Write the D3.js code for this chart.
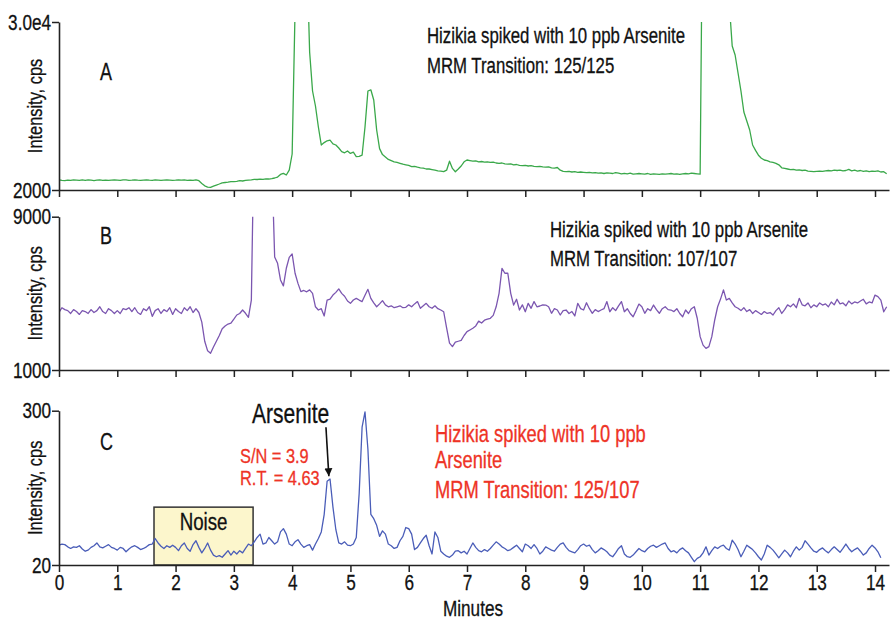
<!DOCTYPE html>
<html lang="en">
<head>
<meta charset="UTF-8">
<title>Hizikia arsenite MRM chromatograms</title>
<script src="https://d3js.org/d3.v7.min.js"></script>
<style>
  body { margin: 0; background: #fff; }
  svg text { font-family: "Liberation Sans", Arial, sans-serif; }
</style>
</head>
<body>
<script>
// samples every 0.05 min, starting at 0
const step = 0.05;
const minuteTicks = [0, 1, 2, 3, 4, 5, 6, 7, 8, 9, 10, 11, 12, 13, 14];

// A: MRM 125/125 (cps)
const traceA = [
  3700,3600,3550,3650,3600,3700,3650,3600,3680,3620,3700,3650,3580,3650,3700,3620,3660,3600,3650,3700,
  3650,3600,3700,3680,3620,3650,3700,3640,3600,3660,3700,3650,3620,3680,3640,3600,3650,3700,3660,3620,
  3650,3700,3640,3680,3620,3650,3600,3680,3550,3100,2700,2480,2450,2650,2830,3000,3200,3250,3300,3380,
  3380,3450,3550,3500,3600,3650,3700,3780,3750,3800,3780,3850,3830,3900,4000,4150,4600,4780,4500,5300,
  8000,32000,80000,90000,70000,42000,25000,18500,16000,12500,9500,9900,10200,10300,9700,9500,9000,8400,8200,8500,
  8100,8300,7550,7600,7800,12500,18500,18700,17000,12000,8900,7900,7500,7100,6900,6700,6600,6450,6300,6200,
  6100,5900,5950,5800,5700,5650,5500,5500,5400,5300,5200,5150,5050,5300,6800,5600,5050,5500,6000,6700,
  7000,6900,6800,6850,6700,6750,6650,6700,6600,6650,6500,6450,6500,6350,6300,6350,6200,6250,6100,6050,
  6100,6000,6050,5950,5900,5950,5850,5800,5850,5700,5650,5750,5300,5100,5050,5100,5000,5050,4950,5000,
  4950,4900,4950,4850,4900,4800,4850,4750,4850,4800,4750,4900,4800,4700,4780,4700,4800,4650,4700,4750,
  4700,4650,4750,4600,4700,4650,4600,4700,4650,4700,4750,4650,4700,4600,4700,4750,4700,4800,4750,4700,
  4650,60000,90000,100000,100000,100000,100000,100000,90000,60000,33000,26000,24500,21500,18500,15000,13500,12000,9500,8600,
  7800,7300,7000,6900,6700,6600,6450,6200,5700,5600,5500,5400,5450,5300,5350,5250,5300,5150,5100,5050,
  5100,5150,5100,5200,5250,5200,5300,5250,5300,5200,5250,5450,5200,5300,5150,5250,5100,5200,5050,5150,
  5100,5200,5000,5050,4700
];

// B: MRM 107/107 (cps)
const traceB = [
  4000,4250,4150,4100,3950,4150,4050,3900,4100,4050,3950,4150,4000,4100,4300,4050,3950,4200,4100,3950,
  4100,3950,4200,4150,4250,4050,4250,4000,3900,4200,4100,4300,3800,4100,4200,3950,4150,4050,4250,3900,
  4200,4050,3950,4250,4100,4300,4000,4200,4000,3500,2500,2000,1870,2200,2500,2800,3150,3300,3400,3450,
  3650,3870,3950,4130,3960,3750,4650,14000,20000,20000,20000,20000,20000,12000,6900,6570,5700,5390,6310,6880,
  7060,6050,5520,5090,5150,5080,5180,5000,4300,4130,4200,3820,4650,4700,4910,5050,5230,5000,4850,4600,
  4480,4650,4740,4650,4570,4900,5210,4740,4500,4300,4450,4620,4400,4300,4350,4250,4300,4350,4250,4270,
  4400,4300,4450,4570,4220,4350,4480,4300,4220,4350,4200,4130,4040,3200,2400,2220,2450,2500,2550,2800,
  3000,3090,3180,3300,3550,3450,3600,3650,3700,3850,4300,5000,6300,6050,6050,5000,4390,4690,4130,4400,
  4040,4480,4220,4570,4300,4340,4400,4390,4300,3960,4200,4130,3870,4100,4130,3950,4050,3820,4480,4200,
  4130,4510,4200,3960,4150,4050,4130,4200,4570,4040,4250,4100,4350,4570,4040,4200,3950,3780,4100,4440,
  4300,3960,4200,4100,4390,4150,3960,4200,4300,4150,4130,4050,4200,3950,3780,4130,3950,4200,4300,3700,
  2740,2300,2130,2220,2740,3610,4300,4700,5180,4650,4740,4500,4300,4220,4100,4250,4050,4150,3950,4100,
  4000,3900,4050,3950,4000,3870,4100,4250,3950,4150,4400,4300,4450,4250,4740,4400,4350,4500,4250,4400,
  4300,4500,4390,4450,4300,4550,4400,4690,4450,4500,4350,4600,4450,4550,4500,4600,4690,4450,4550,4500,
  4910,4830,4650,4040,4300
];

// C: MRM 125/107 (cps)
const traceC = [
  56,58,57,53,50,53,52,55,49,45,47,52,55,60,53,51,54,57,52,50,
  47,52,50,44,49,53,55,52,48,50,53,57,58,68,60,54,50,55,52,56,
  52,46,55,60,50,45,57,64,52,42,50,60,47,38,35,37,34,40,46,38,
  45,40,46,42,50,58,55,62,70,76,58,60,70,64,58,62,80,86,76,58,
  55,62,66,58,52,55,57,47,58,68,80,112,172,176,125,84,60,58,62,56,
  55,58,70,150,270,298,230,112,104,92,72,82,76,58,55,50,52,64,72,88,
  86,76,48,52,60,68,74,55,40,80,70,45,40,36,34,38,45,46,42,45,
  40,50,60,52,46,44,48,45,50,56,62,58,53,50,46,48,52,56,50,44,
  58,55,50,57,50,40,45,53,50,47,45,52,58,60,52,46,44,42,48,55,
  58,54,56,48,42,46,51,48,44,38,35,42,50,55,40,35,34,38,44,50,
  46,44,50,54,56,52,55,58,60,50,44,46,42,48,51,46,42,34,26,32,
  35,42,53,38,46,53,50,54,56,50,47,65,58,48,35,45,56,52,48,42,
  35,29,40,56,52,47,40,33,40,47,42,35,45,53,47,52,64,58,51,45,
  43,48,51,46,42,48,53,48,43,50,58,50,44,48,51,45,38,42,50,56,
  51,44,33
];

const panelKeys = ["A", "B", "C"];
const panelDomains = [[2000, 30000], [1000, 9000], [20, 300]];
const yTickLabels = [["2000", "3.0e4"], ["1000", "9000"], ["20", "300"]];
const traceColors = ["#3aa84a", "#7b56b0", "#4a5db8"];

const noiseWindow = [1.63, 3.33];   // minutes
const noiseTop = 125;               // cps
const arsenitePeak = {t: 4.63, v: 180};

const width = 893, height = 620;
const narrow = 0.78;   // condensed look of the original type

const svg = d3.select("body").append("svg")
    .attr("width", width)
    .attr("height", height);

// text squeezed horizontally around its anchor point
function label(px, py, str, size, fill, anchor, extra) {
    return svg.append("text")
        .attr("transform", `translate(${px},${py}) ${extra || ""} scale(${narrow},1)`)
        .attr("text-anchor", anchor || "start")
        .attr("font-size", size)
        .attr("fill", fill || "#111")
        .attr("stroke", fill || "#111")
        .attr("stroke-width", 0.3)
        .text(str);
}

const x = d3.scaleLinear().domain([0, 14.24]).range([59, 889]);

// pixel bands of the three stacked panels [bottom, top]
const bands = [[190, 22], [370, 216.7], [565, 410.7]];
const traces = [traceA, traceB, traceC];

const line = (y) => d3.line()
    .x((d, i) => x(i * step))
    .y(d => y(d));

const scales = [];

traces.forEach((values, k) => {
    const y = d3.scaleLinear().domain(panelDomains[k]).range(bands[k]);
    scales.push(y);

    svg.append("clipPath").attr("id", "clip" + k)
      .append("rect")
        .attr("x", x.range()[0]).attr("y", bands[k][1])
        .attr("width", x.range()[1] - x.range()[0])
        .attr("height", bands[k][0] - bands[k][1]);

    if (k === 2) {
        // noise window box sits under the trace
        svg.append("rect")
            .attr("x", x(noiseWindow[0]))
            .attr("y", y(noiseTop))
            .attr("width", x(noiseWindow[1]) - x(noiseWindow[0]))
            .attr("height", y(panelDomains[k][0]) - y(noiseTop))
            .attr("fill", "#fcf6cc")
            .attr("stroke", "#333")
            .attr("stroke-width", 1.5);
        label(x((noiseWindow[0] + noiseWindow[1]) / 2), 530, "Noise", 24, "#111", "middle");
    }

    svg.append("path")
        .datum(values)
        .attr("clip-path", `url(#clip${k})`)
        .attr("fill", "none")
        .attr("stroke", traceColors[k])
        .attr("stroke-width", 1.3)
        .attr("stroke-linejoin", "round")
        .attr("d", line(y));

    const xAxis = d3.axisBottom(x)
        .tickValues(minuteTicks)
        .tickSize(7)
        .tickSizeOuter(0)
        .tickPadding(2)
        .tickFormat(k === 2 ? d3.format("d") : () => "");

    const gx = svg.append("g")
        .attr("transform", `translate(0,${bands[k][0]})`)
        .call(xAxis);

    const yAxis = d3.axisLeft(y)
        .tickValues(panelDomains[k])
        .tickSize(7)
        .tickSizeOuter(0)
        .tickPadding(3.2)
        .tickFormat((d, i) => yTickLabels[k][i]);

    const gy = svg.append("g")
        .attr("transform", `translate(${x.range()[0]},0)`)
        .call(yAxis);

    [gx, gy].forEach(g => {
        g.select(".domain").attr("stroke", "#222").attr("stroke-width", 1.6);
        g.selectAll(".tick line").attr("stroke", "#222").attr("stroke-width", 1.5);
        g.selectAll("text")
            .attr("font-size", 22).attr("fill", "#111")
            .attr("stroke", "#111").attr("stroke-width", 0.3)
            .attr("font-family", null)
            .attr("transform", `scale(${narrow},1)`);
    });

    label(42, (bands[k][0] + bands[k][1]) / 2, "Intensity, cps", 21, "#111", "middle", "rotate(-90)");
    label(100, [80, 243.5, 450][k], panelKeys[k], 23);
});

// panel captions
const blackNotes = [
    {x: 427, y: 43, s: "Hizikia spiked with 10 ppb Arsenite"},
    {x: 427, y: 73, s: "MRM Transition: 125/125"},
    {x: 550, y: 237, s: "Hizikia spiked with 10 ppb Arsenite"},
    {x: 550, y: 266, s: "MRM Transition: 107/107"}
];
blackNotes.forEach(d => label(d.x, d.y, d.s, 21.5));

const redNotes = [
    {x: 435, y: 442, s: "Hizikia spiked with 10 ppb", f: 23.5},
    {x: 435, y: 468, s: "Arsenite", f: 23.5},
    {x: 435, y: 498, s: "MRM Transition: 125/107", f: 23.5},
    {x: 240, y: 463, s: "S/N = 3.9", f: 21},
    {x: 240, y: 485, s: "R.T. = 4.63", f: 21}
];
redNotes.forEach(d => label(d.x, d.y, d.s, d.f, "#ee3326"));

// Arsenite arrow
const yC = scales[2];
svg.append("defs").append("marker")
    .attr("id", "head")
    .attr("viewBox", "0 0 10 10")
    .attr("refX", 10).attr("refY", 5)
    .attr("markerWidth", 8).attr("markerHeight", 10)
    .attr("markerUnits", "userSpaceOnUse")
    .attr("orient", "auto")
  .append("path")
    .attr("d", "M0,0L10,5L0,10Z")
    .attr("fill", "#111");

svg.append("line")
    .attr("x1", x(arsenitePeak.t - 0.05)).attr("y1", yC(270))
    .attr("x2", x(arsenitePeak.t)).attr("y2", yC(arsenitePeak.v + 1))
    .attr("stroke", "#111")
    .attr("stroke-width", 1.6)
    .attr("marker-end", "url(#head)");

label(252, 423, "Arsenite", 27);
label(473, 616, "Minutes", 22, "#111", "middle");
</script>
</body>
</html>
